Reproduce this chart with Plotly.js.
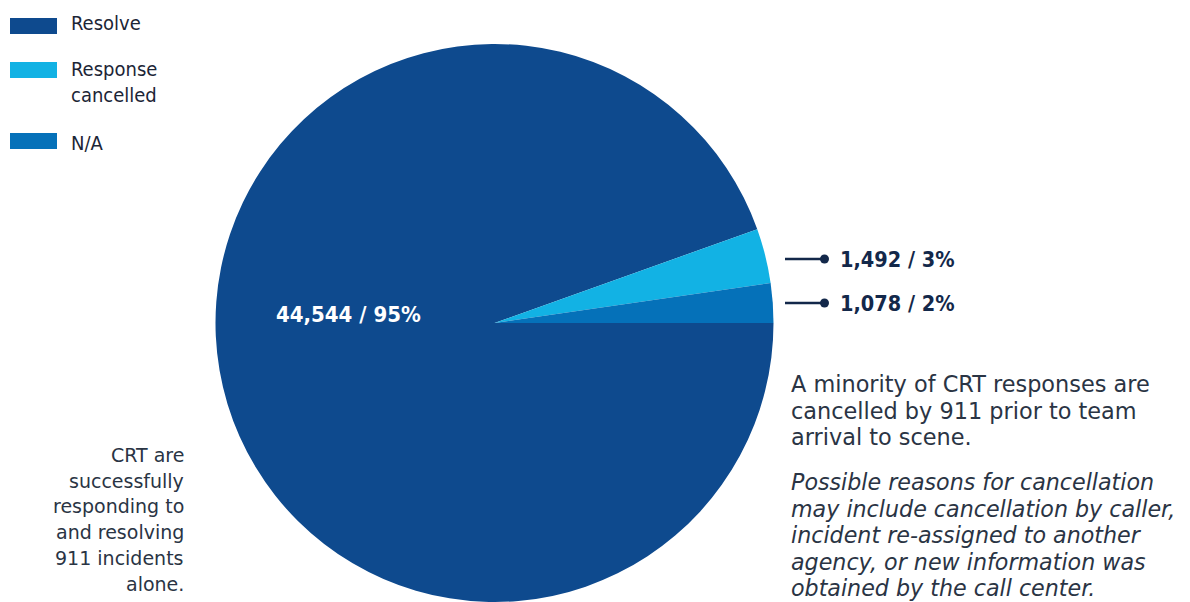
<!DOCTYPE html>
<html>
<head>
<meta charset="utf-8">
<script src="https://cdn.plot.ly/plotly-3.0.1.min.js"></script>
<style>
html,body{margin:0;padding:0;background:#fff;}
#chart{width:1190px;height:602px;}
</style>
</head>
<body>
<div id="chart"></div>
<script>
// ---- data ----
const categories = ["Resolve", "Response cancelled", "N/A"];
const legendLabels = ["Resolve", "Response<br>cancelled", "N/A"];
const values = [44544, 1492, 1078];
const colors = ["#0e4a8e", "#12b2e4", "#0571b9"];

const noteLeft = ["CRT are", "successfully", "responding to", "and resolving", "911 incidents", "alone."];
const noteRight = ["A minority of CRT responses are", "cancelled by 911 prior to team", "arrival to scene."];
const noteRightItalic = ["Possible reasons for cancellation", "may include cancellation by caller,", "incident re-assigned to another", "agency, or new information was", "obtained by the call center."];

// ---- helpers ----
const W = 1190, H = 602;
const px = x => x / W;
const py = y => 1 - y / H;
const total = values.reduce((a, b) => a + b, 0);
const lbl = i => values[i].toLocaleString("en-US") + " / " + Math.round(values[i] / total * 100) + "%";

const condFont = "'DejaVu Sans Condensed', 'Roboto Condensed', Roboto, sans-serif";
const legFont = "'Liberation Sans Narrow', 'DejaVu Sans Condensed', Roboto, sans-serif";
const bodyFont = "'DejaVu Sans', 'Liberation Sans', Arial, sans-serif";
const navy = "#13284a";
const body = "#2a3444";

const trace = {
  type: "pie",
  labels: categories,
  values: values,
  marker: {colors: colors, line: {width: 0}},
  sort: false,
  direction: "clockwise",
  rotation: 90,
  textinfo: "none",
  hoverinfo: "label+value+percent",
  showlegend: false,
  domain: {x: [px(214), px(775)], y: [0, py(44)]}
};

const shapes = [];
const annotations = [];

// legend
const legRectY = [[18, 34], [62, 78], [133, 149]];
const legTextY = [23, 82, 143];
categories.forEach((c, i) => {
  shapes.push({type: "rect", xref: "paper", yref: "paper",
    x0: px(10), x1: px(57), y0: py(legRectY[i][1]), y1: py(legRectY[i][0]),
    fillcolor: colors[i], line: {width: 0}});
  annotations.push({xref: "paper", yref: "paper", x: px(69), y: py(legTextY[i]),
    xanchor: "left", yanchor: "middle", align: "left", showarrow: false,
    text: legendLabels[i], font: {family: legFont, size: 20, color: "#1c2536"}});
});

// big slice label
annotations.push({xref: "paper", yref: "paper", x: px(274), y: py(314),
  xanchor: "left", yanchor: "middle", showarrow: false,
  text: "<b>" + lbl(0) + "</b>", font: {family: condFont, size: 22, color: "#ffffff"}});

// small slice labels with leader lines
const smallY = [259, 303];
[1, 2].forEach((idx, k) => {
  const y = smallY[k];
  shapes.push({type: "line", xref: "paper", yref: "paper",
    x0: px(785), x1: px(824), y0: py(y), y1: py(y), line: {color: navy, width: 2.5}});
  shapes.push({type: "circle", xref: "paper", yref: "paper",
    x0: px(820), x1: px(829), y0: py(y + 4.5), y1: py(y - 4.5),
    fillcolor: navy, line: {width: 0}});
  annotations.push({xref: "paper", yref: "paper", x: px(838), y: py(y),
    xanchor: "left", yanchor: "middle", showarrow: false,
    text: "<b>" + lbl(idx) + "</b>", font: {family: condFont, size: 21.5, color: navy}});
});

// left note
const leftY0 = 455, leftDy = 25.7;
noteLeft.forEach((t, i) => {
  annotations.push({xref: "paper", yref: "paper", x: px(186), y: py(leftY0 + i * leftDy),
    xanchor: "right", yanchor: "middle", showarrow: false, align: "right",
    text: t, font: {family: bodyFont, size: 19, color: body}});
});

// right notes
const rY0 = 384, rDy = 26.5;
noteRight.forEach((t, i) => {
  annotations.push({xref: "paper", yref: "paper", x: px(789), y: py(rY0 + i * rDy),
    xanchor: "left", yanchor: "middle", showarrow: false, align: "left",
    text: t, font: {family: bodyFont, size: 22.4, color: body}});
});
const iY0 = 482;
noteRightItalic.forEach((t, i) => {
  annotations.push({xref: "paper", yref: "paper", x: px(789), y: py(iY0 + i * rDy),
    xanchor: "left", yanchor: "middle", showarrow: false, align: "left",
    text: "<i>" + t + "</i>", font: {family: bodyFont, size: 22.2, color: body}});
});

const layout = {
  width: W, height: H,
  margin: {l: 0, r: 0, t: 0, b: 0},
  paper_bgcolor: "#ffffff",
  plot_bgcolor: "#ffffff",
  showlegend: false,
  shapes: shapes,
  annotations: annotations
};

Plotly.newPlot("chart", [trace], layout, {displayModeBar: false, staticPlot: true});
</script>
</body>
</html>
